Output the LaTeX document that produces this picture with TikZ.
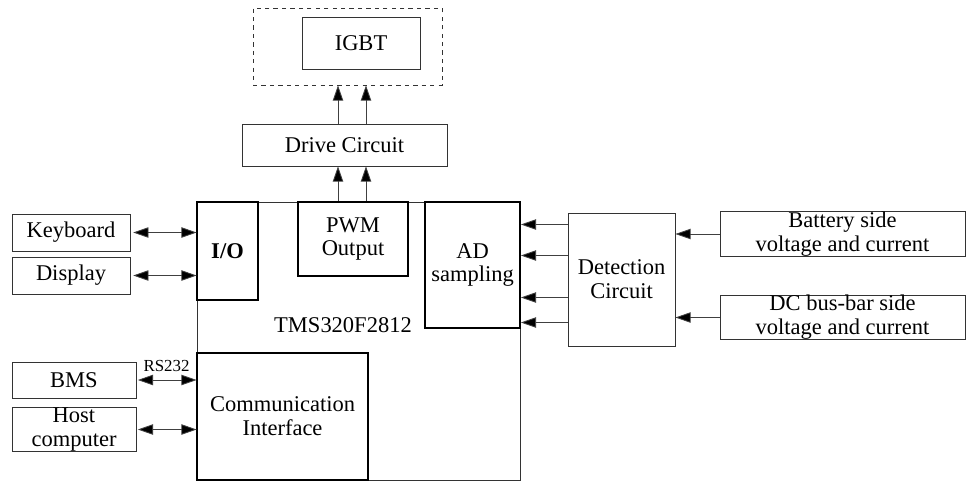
\documentclass[tikz,border=0pt]{standalone}
\usepackage{fontspec}
\setmainfont{Liberation Serif}
\usetikzlibrary{arrows.meta}

\begin{document}
\begin{tikzpicture}[x=0.025cm, y=-0.025cm,
    box/.style={draw=black!80, line width=0.6pt, align=center, inner sep=0pt,
      font=\fontsize{16}{17}\selectfont},
    inner/.style={box, draw=black, line width=1.3pt},
    tip/.tip={Triangle[length=3.8mm,width=2.6mm,fill=black]},
    arr/.style={draw=black!75, line width=0.6pt, -tip},
    biarr/.style={arr, tip-tip}]
        \def \u {0.025cm}
        \useasboundingbox (0,0) rectangle (967,481);

        % IGBT side
        \node[box, dashed, minimum width=189*\u, minimum height=77*\u] (frame) at (347.5,46.5) {};
        \node[box, minimum width=118*\u, minimum height=52*\u] (igbt) at (361,43) {IGBT};
        \node[box, minimum width=205*\u, minimum height=42*\u] (drive) at (344.5,145) {Drive Circuit};

        % DSP and its parts
        \node[box, minimum width=323*\u, minimum height=278*\u] (main) at (358.5,341) {};
        \node[inner, minimum width=61*\u, minimum height=98*\u] (io) at (227.5,251) {\textbf{I/O}};
        \node[inner, minimum width=110*\u, minimum height=74*\u] (pwm) at (353,239) {PWM\\Output};
        \node[inner, minimum width=95*\u, minimum height=126*\u] (ad) at (472.5,265) {AD\\sampling};
        \node[inner, minimum width=171*\u, minimum height=127*\u] (comm) at (282.5,416.5) {Communication\\Interface};
        \node[font=\fontsize{16}{17}\selectfont] (dsp) at (343,325) {TMS320F2812};

        % left side
        \node[box, minimum width=118*\u, minimum height=37*\u] (kb) at (71,232.5) {Keyboard};
        \node[box, minimum width=118*\u, minimum height=37*\u] (disp) at (71,275.5) {Display};
        \node[box, minimum width=124*\u, minimum height=36*\u] (bms) at (74,380) {BMS};
        \node[box, minimum width=124*\u, minimum height=43*\u] (host) at (74,429.5) {Host\\computer};

        % right side
        \node[box, minimum width=107*\u, minimum height=133*\u] (detect) at (621.5,279.5) {Detection\\Circuit};
        \node[box, minimum width=245*\u, minimum height=42*\u] (batt) at (842.5,234) {Battery side\\voltage and current};
        \node[box, minimum width=245*\u, minimum height=41*\u] (dcbus) at (842.5,317.5) {DC bus-bar side\\voltage and current};

        \foreach \dx in {-15,13} {
          \draw[arr] ([xshift=\dx*\u]pwm.north) -- ([xshift=\dx*\u]pwm.north |- drive.south);
          \draw[arr] ([xshift=\dx*\u]pwm.north |- drive.north) -- ([xshift=\dx*\u]pwm.north |- frame.south);
        }

        \draw[biarr, shorten <=2pt] (kb.east) -- (kb.east -| main.west);
        \draw[biarr, shorten <=2pt] (disp.east) -- (disp.east -| main.west);
        \draw[biarr, shorten <=1pt] (bms.east) -- (bms.east -| main.west)
          node[midway, above=2pt, font=\fontsize{12}{13}\selectfont] (rs) {RS232};
        \draw[biarr, shorten <=1pt] (host.east) -- (host.east -| main.west);

        \foreach \dy in {-55,-24,18,43}
          \draw[arr] ([yshift=-\dy*\u]detect.west) -- ([yshift=-\dy*\u]detect.west -| ad.east);
        \draw[arr] (batt.west) -- (batt.west -| detect.east);
        \draw[arr] (dcbus.west) -- (dcbus.west -| detect.east);
      \end{tikzpicture}
\end{document}
